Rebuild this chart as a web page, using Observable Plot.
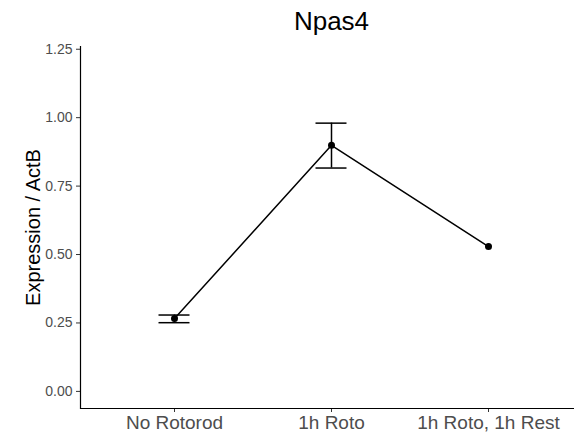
<!DOCTYPE html>
<html>
<head>
<meta charset="utf-8">
<script src="https://cdn.jsdelivr.net/npm/d3@7"></script>
<script src="https://cdn.jsdelivr.net/npm/@observablehq/plot@0.6"></script>
<style>
  body { margin: 0; background: #fff; }
  svg { font-family: "Liberation Sans", Arial, Helvetica, sans-serif; }
</style>
</head>
<body>
<div id="chart"></div>
<script>
const title = "Npas4";
const yLabel = "Expression / ActB";
const categories = ["No Rotorod", "1h Roto", "1h Roto, 1h Rest"];
const means = [0.266, 0.899, 0.529];
const lower = [0.251, 0.816, null];
const upper = [0.279, 0.980, null];
const yTicks = [0, 0.25, 0.5, 0.75, 1.0, 1.25];

const data = categories.map((c, i) => ({cat: c, mean: means[i], lo: lower[i], hi: upper[i]}));
const errData = data.filter(d => d.lo != null && d.hi != null);

const chart = Plot.plot({
  width: 574,
  height: 438,
  marginLeft: 80,
  marginRight: 0,
  marginTop: 46,
  marginBottom: 30,
  style: {fontFamily: '"Liberation Sans", Arial, Helvetica, sans-serif', background: "#fff"},
  x: {type: "point", domain: categories, range: [174, 488], padding: 0},
  y: {domain: [-0.0625, 1.26]},
  marks: [
    Plot.axisX({tickSize: 4, tickPadding: 3, fontSize: 19, color: "#4d4d4d", stroke: "#333", label: null}),
    Plot.axisY({ticks: yTicks, tickFormat: d3.format(".2f"), tickSize: 4, tickPadding: 4, fontSize: 14, color: "#4d4d4d", stroke: "#333", label: null}),
    Plot.ruleY([-0.0625], {stroke: "#000", strokeWidth: 1.2}),
    Plot.frame({anchor: "left", stroke: "#000", strokeWidth: 1.2}),
    Plot.ruleX(errData, {x: "cat", y1: "lo", y2: "hi", stroke: "#000", strokeWidth: 1.5}),
    Plot.ruleY(errData, {y: "lo", x1: "cat", x2: "cat", insetLeft: -15.5, insetRight: -15.5, stroke: "#000", strokeWidth: 1.5}),
    Plot.ruleY(errData, {y: "hi", x1: "cat", x2: "cat", insetLeft: -15.5, insetRight: -15.5, stroke: "#000", strokeWidth: 1.5}),
    Plot.line(data, {x: "cat", y: "mean", stroke: "#000", strokeWidth: 1.5}),
    Plot.dot(data, {x: "cat", y: "mean", r: 3.5, fill: "#000", stroke: "none"}),
    Plot.text([title], {frameAnchor: "top", dx: 4, dy: -25, lineAnchor: "middle", textAnchor: "middle", fontSize: 26, fill: "#000"}),
    Plot.text([yLabel], {frameAnchor: "left", dx: -47, dy: 0, rotate: -90, lineAnchor: "middle", textAnchor: "middle", fontSize: 20, fill: "#000"})
  ]
});
document.getElementById("chart").appendChild(chart);
</script>
</body>
</html>
